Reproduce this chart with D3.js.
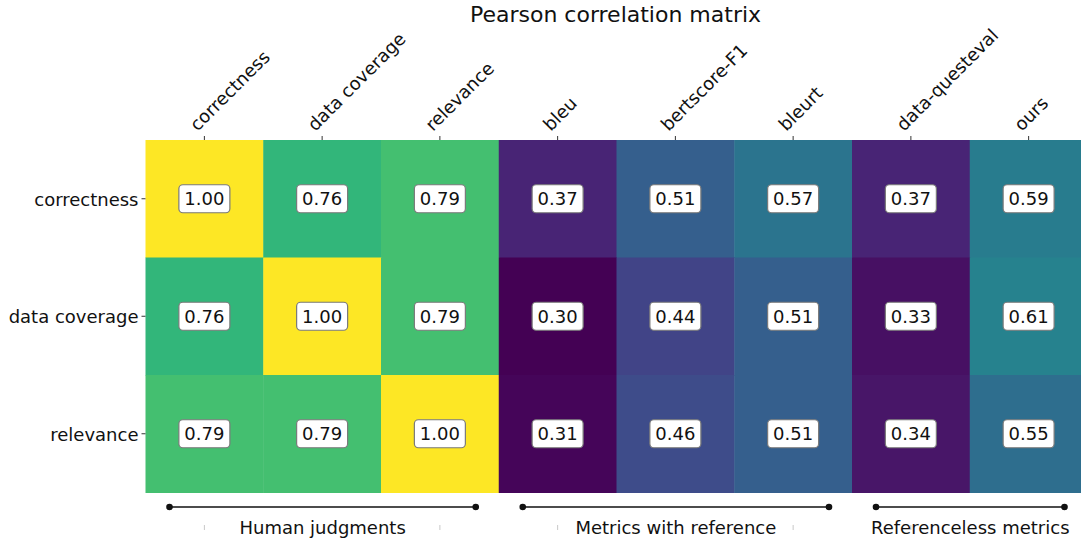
<!DOCTYPE html>
<html>
<head>
<meta charset="utf-8">
<script src="https://cdn.jsdelivr.net/npm/d3@7"></script>
<style>
  body { margin: 0; background: #fff; }
  text { font-family: "DejaVu Sans", sans-serif; fill: #111; }
</style>
</head>
<body>
<div id="chart"></div>
<script>
// data
var rowLabels = ["correctness", "data coverage", "relevance"]
var colLabels = ["correctness", "data coverage", "relevance", "bleu", "bertscore-F1", "bleurt", "data-questeval", "ours"]
var corrCorrectness = [1.00, 0.76, 0.79, 0.37, 0.51, 0.57, 0.37, 0.59]
var corrCoverage = [0.76, 1.00, 0.79, 0.30, 0.44, 0.51, 0.33, 0.61]
var corrRelevance = [0.79, 0.79, 1.00, 0.31, 0.46, 0.51, 0.34, 0.55]
var groupNames = ["Human judgments", "Metrics with reference", "Referenceless metrics"]
var groupStart = [0, 3, 6]
var groupEnd = [2, 5, 7]

var matrix = [corrCorrectness, corrCoverage, corrRelevance]

var width = 1081, height = 540
var marginLeft = 145.5, marginTop = 140
var cellW = 117.75, cellH = 117.5

var svg = d3.select("#chart").append("svg")
    .attr("width", width)
    .attr("height", height)

var x = d3.scaleBand()
    .domain(colLabels)
    .range([marginLeft, marginLeft + cellW * colLabels.length])
var y = d3.scaleBand()
    .domain(rowLabels)
    .range([marginTop, marginTop + cellH * rowLabels.length])

var allVals = matrix.flat()
var color = d3.scaleSequential(d3.interpolateViridis)
    .domain([d3.min(allVals), d3.max(allVals)])

var cells = []
matrix.forEach(function (row, i) {
  row.forEach(function (v, j) {
    cells.push({ row: rowLabels[i], col: colLabels[j], value: v })
  })
})

svg.append("g").selectAll("rect")
  .data(cells)
  .enter()
  .append("rect")
  .attr("x", function (d) { return x(d.col) })
  .attr("y", function (d) { return y(d.row) })
  .attr("width", x.bandwidth() + 0.5)
  .attr("height", y.bandwidth() + 0.5)
  .attr("fill", function (d) { return color(d.value) })

// value boxes
var lab = svg.append("g").selectAll("g")
  .data(cells)
  .enter()
  .append("g")
  .attr("transform", function (d) {
    return "translate(" + (x(d.col) + x.bandwidth() / 2) + "," + (y(d.row) + y.bandwidth() / 2) + ")"
  })
lab.append("rect")
  .attr("x", -25.5).attr("y", -14)
  .attr("width", 51).attr("height", 28)
  .attr("rx", 4).attr("ry", 4)
  .attr("fill", "#fff")
  .attr("stroke", "#7a7a7a")
  .attr("stroke-width", 1.2)
lab.append("text")
  .attr("text-anchor", "middle")
  .attr("dy", "0.36em")
  .style("font-size", "18px")
  .text(function (d) { return d3.format(".2f")(d.value) })

// top axis
var xAxis = svg.append("g")
  .attr("transform", "translate(0," + marginTop + ")")
  .call(d3.axisTop(x).tickSize(4).tickSizeOuter(0))
xAxis.select(".domain").remove()
xAxis.selectAll(".tick line").attr("stroke", "#333")
xAxis.selectAll(".tick text")
  .style("font-size", "18px")
  .style("font-family", "DejaVu Sans, sans-serif")
  .attr("fill", "#111")
  .attr("text-anchor", "start")
  .attr("x", 0).attr("y", 0).attr("dy", 0)
  .attr("transform", "translate(-7,-8) rotate(-45)")

// left axis
var yAxis = svg.append("g")
  .attr("transform", "translate(" + marginLeft + ",0)")
  .call(d3.axisLeft(y).tickSize(4).tickSizeOuter(0))
yAxis.select(".domain").remove()
yAxis.selectAll(".tick line").attr("stroke", "#333")
yAxis.selectAll(".tick text")
  .style("font-size", "18px")
  .style("font-family", "DejaVu Sans, sans-serif")
  .attr("fill", "#111")
  .attr("x", -7)
  .attr("dy", "0.4em")

// title
svg.append("text")
  .attr("x", marginLeft + cellW * colLabels.length / 2 - 1)
  .attr("y", 22)
  .attr("text-anchor", "middle")
  .style("font-size", "22px")
  .text("Pearson correlation matrix")

// group brackets
var lineY = 507
groupNames.forEach(function (name, g) {
  var x0 = x(colLabels[groupStart[g]]) + 24
  var x1 = Math.min(x(colLabels[groupEnd[g]]) + x.bandwidth() - 23, 1068)
  var gg = svg.append("g")
  gg.append("line")
    .attr("x1", x0).attr("x2", x1)
    .attr("y1", lineY).attr("y2", lineY)
    .attr("stroke", "#111").attr("stroke-width", 1.5)
  gg.selectAll("circle")
    .data([x0, x1])
    .enter()
    .append("circle")
    .attr("cx", function (d) { return d })
    .attr("cy", lineY)
    .attr("r", 3.3)
    .attr("fill", "#111")
  var c0 = x(colLabels[groupStart[g]]) + x.bandwidth() / 2
  var c1 = x(colLabels[groupEnd[g]]) + x.bandwidth() / 2
  gg.selectAll(".gtick")
    .data([c0, c1])
    .enter()
    .append("line")
    .attr("class", "gtick")
    .attr("x1", function (d) { return d }).attr("x2", function (d) { return d })
    .attr("y1", 525).attr("y2", 530)
    .attr("stroke", "#c8c8c8")
  gg.append("text")
    .attr("x", (x0 + x1) / 2)
    .attr("y", 534)
    .attr("text-anchor", "middle")
    .style("font-size", "18px")
    .style("fill", "#111")
    .text(name)
})
</script>
</body>
</html>
